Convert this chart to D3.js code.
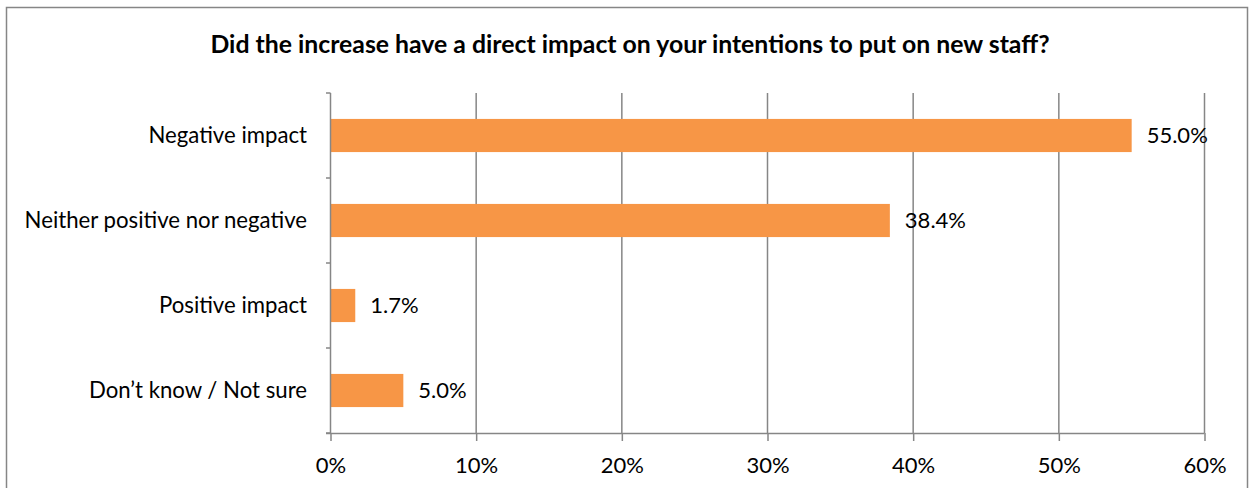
<!DOCTYPE html>
<html><head><meta charset="utf-8">
<script src="https://cdn.jsdelivr.net/npm/d3@7"></script>
<style>body{margin:0;background:#fff}svg{display:block}text{font-family:Lato,"Open Sans",sans-serif}</style>
</head><body>
<svg id="c" width="1254" height="488"></svg>
<script>
const categories = ["Negative impact","Neither positive nor negative","Positive impact","Don\u2019t know / Not sure"];
const values = [55.0, 38.4, 1.7, 5.0];
const tickValues = [0,10,20,30,40,50,60];
const title = "Did the increase have a direct impact on your intentions to put on new staff?";

const FONT = "Lato, 'Open Sans', sans-serif";
const svg = d3.select("#c");
svg.append("rect").attr("x",6.5).attr("y",7.5).attr("width",1241).attr("height",490)
  .attr("fill","#fff").attr("stroke","#868686").attr("stroke-width",1.5);

const x = d3.scaleLinear().domain([0,60]).range([330.5,1204.5]);
const y = d3.scaleBand().domain(categories).range([93,433]).paddingInner(0.61).paddingOuter(0.305);
const yb = d3.scaleBand().domain(categories).range([93,433]);

svg.append("text").attr("x",630).attr("y",53).attr("text-anchor","middle")
  .attr("font-weight","bold").attr("font-size",24.8).text(title);

// gridlines
svg.append("g").selectAll("line").data(tickValues.slice(1)).join("line")
  .attr("x1",d=>x(d)).attr("x2",d=>x(d)).attr("y1",93).attr("y2",433)
  .attr("stroke","#868686").attr("stroke-width",1.5);

// bars
svg.append("g").selectAll("rect").data(values).join("rect")
  .attr("x",x(0)).attr("y",(d,i)=>y(categories[i])).attr("width",d=>x(d)-x(0))
  .attr("height",y.bandwidth()).attr("fill","#F79646");

// value labels
svg.append("g").selectAll("text").data(values).join("text")
  .attr("x",d=>x(d)+15).attr("y",(d,i)=>y(categories[i])+y.bandwidth()/2)
  .attr("dy","0.36em").attr("font-size",22).text(d=>d.toFixed(1)+"%");

// x axis
const xa = svg.append("g").attr("transform","translate(0,433)")
  .call(d3.axisBottom(x).tickValues(tickValues).tickFormat(d=>d+"%").tickSizeInner(8).tickSizeOuter(0).tickPadding(16));
xa.select(".domain").attr("stroke","#868686").attr("stroke-width",1.5).attr("d","M326,0.5H1204.5");
xa.selectAll(".tick line").attr("stroke","#868686").attr("stroke-width",1.5);
xa.selectAll(".tick text").attr("font-size",22).attr("fill","#000").style("font-family",FONT);

// y axis
const ya = svg.append("g").attr("transform","translate(330.5,0)")
  .call(d3.axisLeft(yb).tickSize(0).tickPadding(23.5));
ya.select(".domain").attr("stroke","#868686").attr("stroke-width",1.5).attr("d","M0,93V433");
ya.selectAll(".tick text").attr("font-size",22.2).attr("fill","#000").style("font-family",FONT);
// band-boundary ticks
svg.append("g").selectAll("line").data(categories.concat([null])).join("line")
  .attr("x1",326).attr("x2",330.5)
  .attr("y1",(d,i)=> d===null ? 433 : yb(d)).attr("y2",(d,i)=> d===null ? 433 : yb(d))
  .attr("stroke","#868686").attr("stroke-width",1.5);
</script>
</body></html>
